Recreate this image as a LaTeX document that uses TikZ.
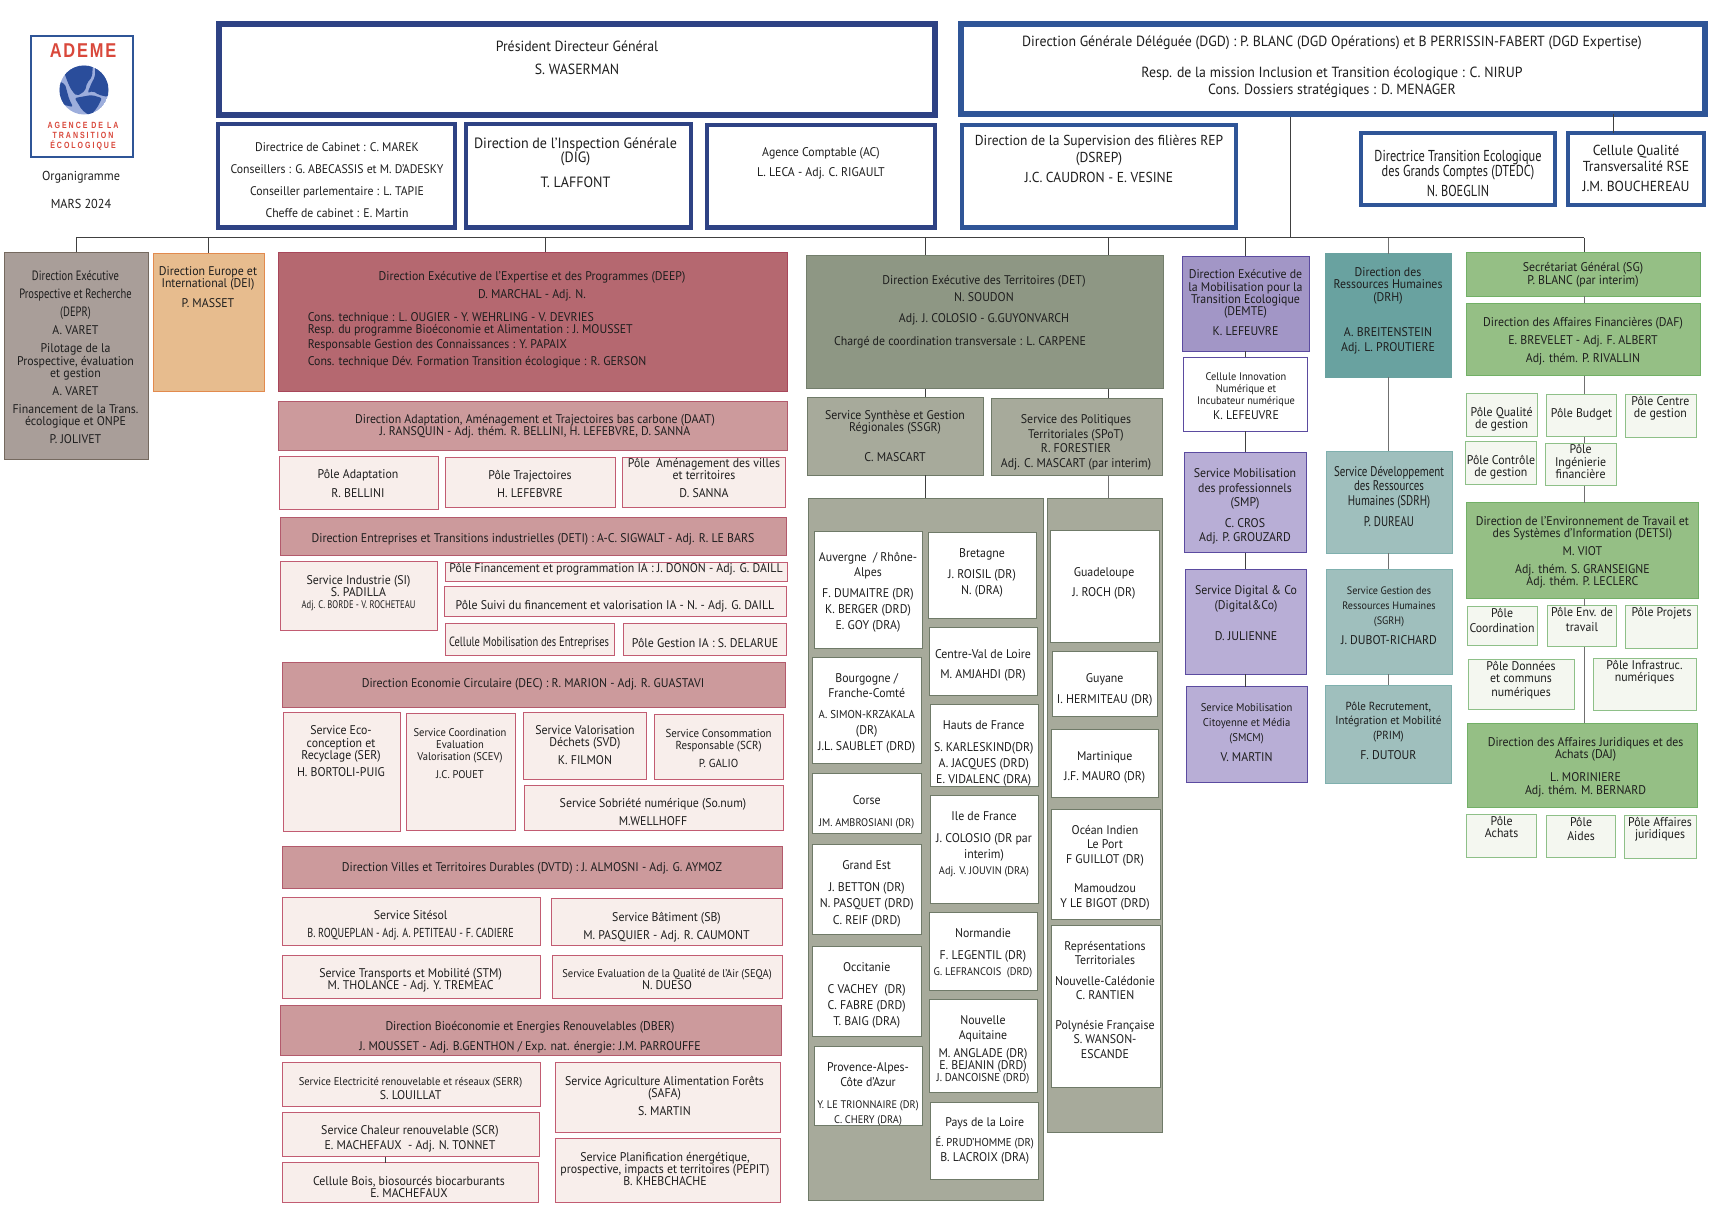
\documentclass[tikz,border=0pt]{standalone}
\usepackage{fontspec}
\setmainfont[FakeStretch=0.94]{PT Sans}
\newfontfamily\condf[FakeStretch=0.78]{PT Sans}
\newfontfamily\logofa[LetterSpace=9,FakeStretch=0.82]{Liberation Sans}
\newfontfamily\logofb[LetterSpace=22,FakeStretch=0.78]{Liberation Sans}
\definecolor{navyc}{HTML}{2E4284}
\definecolor{blueb}{HTML}{2F5597}
\definecolor{txtc}{HTML}{1E1E1E}
\definecolor{linec}{HTML}{404040}
\definecolor{lineg}{HTML}{707070}
\definecolor{deprf}{HTML}{A99E99}\definecolor{deprd}{HTML}{75695F}
\definecolor{deif}{HTML}{E7BC8E}\definecolor{deid}{HTML}{E28A4E}
\definecolor{rdf}{HTML}{B56870}\definecolor{rdd}{HTML}{A8465A}
\definecolor{rmf}{HTML}{CC9A9C}\definecolor{rmd}{HTML}{B35A6C}
\definecolor{rlf}{HTML}{F8EEEB}\definecolor{rld}{HTML}{C25C72}
\definecolor{gdf}{HTML}{8E9784}\definecolor{gdd}{HTML}{737E6C}
\definecolor{gmf}{HTML}{A7AA9B}\definecolor{gmd}{HTML}{6F7A68}
\definecolor{pdf}{HTML}{A296C6}\definecolor{pmf}{HTML}{B8AED6}\definecolor{pd}{HTML}{5B4BA0}
\definecolor{tdf}{HTML}{69A2A0}\definecolor{tmf}{HTML}{9FBFBD}\definecolor{tmd}{HTML}{7FB0AE}
\definecolor{vmf}{HTML}{95BF85}\definecolor{vmd}{HTML}{72B066}
\definecolor{vlf}{HTML}{F4F7F0}\definecolor{vld}{HTML}{8EC088}
\definecolor{logor}{HTML}{D9483B}\definecolor{globed}{HTML}{2A4D9B}\definecolor{globel}{HTML}{9DAEDC}
\newcommand{\noskip}{\lineskiplimit=-100pt\relax}
\tikzset{
 fz/.code args={#1/#2}{\gdef\bxfz{\fontsize{#1}{#2}\selectfont}},
 cond/.code={\gdef\bxfam{\condf}},
 boxbase/.style={rectangle,inner sep=0pt,outer sep=0pt,line width=1pt},
 txtnode/.style={anchor=north,align=center,inner sep=0pt,outer sep=0pt,yshift=5.2pt,text=txtc},
 conn/.style={draw=linec,line width=1pt},
 conng/.style={draw=lineg,line width=1pt},
 navybox/.style={draw=navyc,line width=6pt,fill=white},
 navysm/.style={draw=navyc,line width=4.5pt,fill=white},
 bluebig/.style={draw=blueb,line width=6pt,fill=white},
 bluesm/.style={draw=blueb,line width=4.5pt,fill=white},
 depr/.style={draw=deprd,fill=deprf},
 dei/.style={draw=deid,fill=deif},
 reddark/.style={draw=rdd,fill=rdf},
 redmid/.style={draw=rmd,fill=rmf},
 redlight/.style={draw=rld,fill=rlf},
 greydark/.style={draw=gdd,fill=gdf},
 greymid/.style={draw=gmd,fill=gmf},
 whitecell/.style={draw=gmd,fill=white},
 purdark/.style={draw=pd,fill=pdf},
 purmid/.style={draw=pd,fill=pmf},
 purwhite/.style={draw=pd,fill=white},
 tealdark/.style={draw=tdf,fill=tdf},
 tealmid/.style={draw=tmd,fill=tmf},
 greenmid/.style={draw=vmd,fill=vmf},
 greenlight/.style={draw=vld,fill=vlf},
}
% name, x1, y1, x2, y2, style, text centre x, first line centre y, text
\newcommand{\bx}[9]{%
 \gdef\bxfz{\fontsize{12.6}{12}\selectfont}\gdef\bxfam{}%
 \node[boxbase,#6,minimum width={(#4-#2)*1pt},minimum height={(#5-#3)*1pt}] (#1) at ({(#2+#4)/2},{(#3+#5)/2}) {};
 \node[txtnode,font=\bxfam\bxfz\noskip] (#1t) at (#7,#8) {\rule{0pt}{9.6pt}#9};
}
\newcommand{\vc}[4][conn]{\coordinate (tmpx) at (#2,0); \draw[#1] (tmpx |- #3.south) -- (tmpx |- #4.north);}
\newcommand{\busdrop}[3][conn]{\coordinate (tmpx) at (#2,237.5); \draw[#1] (tmpx) -- (tmpx |- #3.north);}
\newcommand{\csm}[1]{{\condf\fontsize{11}{12}\selectfont #1}}
\newcommand{\dsm}[1]{{\condf\fontsize{13.5}{12}\selectfont #1}}
\newcommand{\nsm}[1]{{\fontsize{11}{12}\selectfont #1}}
\newcommand{\nsn}[1]{{\fontsize{11.2}{12}\selectfont #1}}
\newcommand{\nsl}[1]{{\fontsize{11.4}{12}\selectfont #1}}
\begin{document}
\begin{tikzpicture}[x=1pt,y=-1pt]
\useasboundingbox (0,0) rectangle (1726,1216);
% logo
\node[boxbase,draw=blueb,line width=2.5pt,fill=white,minimum width=102pt,minimum height=121pt] (logo) at (82,96.5) {};
\node[inner sep=0pt,text=logor,font=\logofa\bfseries\fontsize{20}{20}\selectfont] (logoa) at (83,51) {ADEME};
\node[inner sep=0pt,text=logor,font=\logofb\bfseries\fontsize{9}{10}\selectfont,align=center] (logob) at (83,136) {AGENCE DE LA\\TRANSITION\\ÉCOLOGIQUE};
\begin{scope}
 \clip (84,90) circle (24.5);
 \fill[globel] (84,90) circle (24.5);
 \fill[globed,rounded corners=2pt] (64,72) -- (78,62) -- (93,64) -- (92,77) -- (87,83) -- (85,91) -- (77,96) -- (72,91) -- (68,83) -- cycle;
 \fill[globed,rounded corners=2pt] (95,62) -- (110,70) -- (112,85.3) -- (108,97) -- (98.3,94.7) -- (93.3,91) -- (87.5,93) -- (92,82) -- (95,77) -- cycle;
 \fill[globed,rounded corners=2pt] (74.7,98) -- (91.7,95) -- (102,98) -- (97,108) -- (90,116) -- (82,110) -- cycle;
 \fill[globed,rounded corners=2pt] (56,80) -- (65,84) -- (69,98.7) -- (73,107) -- (60,104) -- cycle;
\end{scope}
\node[inner sep=0pt,font=\fontsize{13}{13}\selectfont,text=txtc] (org) at (81,177) {Organigramme};
\node[inner sep=0pt,font=\fontsize{13}{13}\selectfont,text=txtc] (mars) at (81,204) {MARS 2024};
% top
\bx{pdg}{218.5}{24}{935}{114.5}{navybox,fz=14.7/13}{577}{46}{Président Directeur Général\\[10pt]S. WASERMAN}
\bx{dgd}{961}{24}{1705}{114}{bluebig,fz=14.7/13}{1332}{41}{Direction Générale Déléguée (DGD) : P. BLANC (DGD Opérations) et B PERRISSIN-FABERT (DGD Expertise)\\[18pt]Resp. de la mission Inclusion et Transition écologique : C. NIRUP\\[4pt]Cons. Dossiers stratégiques : D. MENAGER}
\bx{cab}{218}{124}{455}{227.5}{navysm,fz=12.5/12}{337}{147}{Directrice de Cabinet : C. MAREK\\[10pt]Conseillers : G. ABECASSIS et M. D’ADESKY\\[10pt]Conseiller parlementaire : L. TAPIE\\[10pt]Cheffe de cabinet : E. Martin}
\bx{dig}{466}{124}{691}{227.5}{navysm,fz=14.9/14}{575.5}{142.5}{Direction de l’Inspection Générale\\(DIG)\\[11pt]T. LAFFONT}
\bx{ac}{707}{125}{935}{227.5}{navysm,fz=12.6/12}{821}{152}{Agence Comptable (AC)\\[8pt]L. LECA - Adj. C. RIGAULT}
\bx{dsrep}{962}{125}{1236}{227.5}{bluesm,fz=14.4/17}{1099}{140}{Direction de la Supervision des filières REP\\(DSREP)\\[3pt]J.C. CAUDRON - E. VESINE}
\bx{dtedc}{1361}{133}{1555}{205}{bluesm,fz=15.8/15,cond}{1458}{156}{Directrice Transition Ecologique\\des Grands Comptes (DTEDC)\\[5pt]N. BOEGLIN}
\bx{rse}{1568}{133}{1704}{205}{bluesm,fz=14.5/16}{1636}{150}{Cellule Qualité\\Transversalité RSE\\[4pt]J.M. BOUCHEREAU}
% bus
\coordinate (busl) at (76,237.5);
\coordinate (busr) at (1584,237.5);
\draw[conn] (busl) -- (busr);
% left
\bx{deprb}{4}{252}{148}{459}{depr}{75.5}{276}{\dsm{Direction Exécutive}\\[6pt]\dsm{Prospective et Recherche}\\[6pt]\dsm{(DEPR)}\\[6pt]A. VARET\\[6pt]Pilotage de la\\[1pt]Prospective, évaluation\\et gestion\\[6pt]A. VARET\\[6pt]Financement de la Trans.\\écologique et ONPE\\[6pt]P. JOLIVET}
\bx{deib}{153.5}{253}{264}{391}{dei}{208}{271}{Direction Europe et\\International (DEI)\\[8pt]P. MASSET}
\bx{deep}{278}{252}{787}{391}{reddark}{532}{276}{Direction Exécutive de l’Expertise et des Programmes (DEEP)\\[6pt]D. MARCHAL - Adj. N.}
\node[anchor=north west,align=left,inner sep=0pt,text=txtc,font=\fontsize{12.6}{12}\selectfont\noskip] (deepl) at (307.6,312.5) {Cons. technique : L. OUGIER - Y. WEHRLING - V. DEVRIES\\Resp. du programme Bioéconomie et Alimentation : J. MOUSSET\\[3pt]Responsable Gestion des Connaissances : Y. PAPAIX\\[5pt]Cons. technique Dév. Formation Transition écologique : R. GERSON};
\bx{daat}{278}{401}{787}{450}{redmid}{535}{419}{Direction Adaptation, Aménagement et Trajectoires bas carbone (DAAT)\\J. RANSQUIN - Adj. thém.  R. BELLINI, H. LEFEBVRE, D. SANNA}
\bx{padapt}{279}{456}{438}{509}{redlight}{358}{474}{Pôle Adaptation\\[7pt]R. BELLINI}
\bx{ptraj}{445.5}{457}{615}{507}{redlight}{530}{475}{Pôle Trajectoires\\[6pt]H. LEFEBVRE}
\bx{pamen}{622.6}{457}{785}{507}{redlight}{704}{463}{Pôle~~Aménagement des villes\\et territoires\\[6pt]D. SANNA}
\bx{deti}{280}{517}{786}{555}{redmid}{533}{538}{Direction Entreprises et Transitions industrielles (DETI) : A-C. SIGWALT - Adj. R. LE BARS}
\bx{si}{280.5}{561.7}{437}{630}{redlight}{358.5}{580}{Service Industrie (SI)\\S. PADILLA\\\csm{Adj. C. BORDE - V. ROCHETEAU}}
\bx{pfin}{445.5}{562}{787}{581.7}{redlight}{616}{568}{Pôle Financement et programmation IA : J. DONON - Adj. G. DAILL}
\bx{psuivi}{444.5}{586.7}{786}{616}{redlight}{615}{604.7}{Pôle Suivi du financement et valorisation IA - N. - Adj. G. DAILL}
\bx{cmob}{445.5}{623}{614}{655.7}{redlight,cond,fz=13.4/12}{529}{641.7}{Cellule Mobilisation des Entreprises}
\bx{pgest}{623}{623}{786}{655.7}{redlight}{705}{642.7}{Pôle Gestion IA : S. DELARUE}
\bx{dec}{282}{662}{785}{707}{redmid}{533}{683}{Direction Economie Circulaire (DEC) : R. MARION - Adj. R. GUASTAVI}
\bx{ser}{283}{712}{400}{831}{redlight}{341}{730}{Service Eco-\\[1pt]conception et\\Recyclage (SER)\\[5pt]H. BORTOLI-PUIG}
\bx{scev}{406}{713}{515}{830}{redlight,fz=11.2/12}{460}{732}{Service Coordination\\Evaluation\\Valorisation (SCEV)\\[6pt]J.C. POUET}
\bx{svd}{523.5}{712}{646.6}{779}{redlight}{585}{730}{Service Valorisation\\Déchets (SVD)\\[6pt]K. FILMON}
\bx{scons}{654}{714}{783}{779}{redlight,fz=11.6/12}{718.6}{733}{Service Consommation\\Responsable (SCR)\\[6pt]P. GALIO}
\bx{sobr}{524}{785}{783}{830}{redlight}{653}{803}{Service Sobriété numérique (So.num)\\[6pt]M.WELLHOFF}
\bx{dvtd}{282.5}{846}{782}{888}{redmid}{532}{867}{Direction Villes et Territoires Durables (DVTD) : J. ALMOSNI - Adj. G. AYMOZ}
\bx{sit}{282}{897}{540}{945}{redlight}{410.6}{915}{Service Sitésol\\[6pt]{\condf\fontsize{13}{12}\selectfont B. ROQUEPLAN - Adj. A. PETITEAU -  F. CADIERE}}
\bx{sbat}{551.6}{898.7}{782}{945.7}{redlight}{666.5}{917}{Service Bâtiment (SB)\\[6pt]M. PASQUIER - Adj. R. CAUMONT}
\bx{stm}{282}{955}{540}{998}{redlight}{410.6}{973}{Service Transports et Mobilité (STM)\\M. THOLANCE - Adj. Y. TREMEAC}
\bx{seqa}{552.6}{955}{782}{998}{redlight}{667}{973}{\nsn{Service Evaluation de la Qualité de l’Air (SEQA)}\\N. DUESO}
\bx{dber}{280}{1005}{781.5}{1055}{redmid}{530}{1026}{Direction Bioéconomie et Energies Renouvelables  (DBER)\\[8pt]J. MOUSSET - Adj. B.GENTHON / Exp. nat. énergie: J.M. PARROUFFE}
\bx{serr}{282}{1062.7}{540}{1106.7}{redlight}{410.6}{1081}{\nsn{Service Electricité renouvelable et réseaux (SERR)}\\[2pt]S. LOUILLAT}
\bx{safa}{555}{1062.7}{780}{1132.7}{redlight}{664.5}{1081}{Service Agriculture Alimentation Forêts\\(SAFA)\\[6pt]S. MARTIN}
\bx{schal}{282}{1112}{539}{1156.7}{redlight}{410}{1130}{Service Chaleur renouvelable (SCR)\\[3pt]E. MACHEFAUX~~- Adj. N. TONNET}
\bx{cbois}{282}{1162.7}{538}{1202}{redlight}{409}{1181}{Cellule Bois, biosourcés biocarburants\\E. MACHEFAUX}
\bx{pepit}{555.6}{1138.7}{780.5}{1202}{redlight}{665}{1157}{Service Planification énergétique,\\prospective, impacts et territoires (PEPIT)\\B. KHEBCHACHE}
\vc{385}{schal}{cbois}
% territoires
\bx{det}{806}{255}{1163}{388.7}{greydark}{984}{280}{Direction Exécutive des Territoires (DET)\\[5pt]N. SOUDON\\[9pt]Adj. J. COLOSIO - G.GUYONVARCH}
\node[inner sep=0pt,text=txtc,font=\fontsize{12.6}{12}\selectfont] (detl) at (960,342) {Chargé de coordination transversale : L. CARPENE};
\bx{ssgr}{807}{397.3}{983.7}{475}{greymid}{895}{415}{Service Synthèse et Gestion\\Régionales (SSGR)\\[18pt]C. MASCART}
\bx{spot}{991}{398}{1162}{475}{greymid}{1076}{419}{Service des Politiques\\[3pt]Territoriales (SPoT)\\[2pt]R. FORESTIER\\[3pt]Adj. C. MASCART (par interim)}
\node[boxbase,greymid,minimum width=235pt,minimum height=702.6pt] (panl) at (925.5,849.3) {};
\node[boxbase,greymid,minimum width=115pt,minimum height=634.6pt] (panr) at (1104.5,815.3) {};
\vc{925}{det}{ssgr}
\vc{1108}{det}{spot}
\vc{925}{ssgr}{panl}
\vc[conng]{1108}{spot}{panr}
\bx{auv}{814}{531.6}{922}{648}{whitecell}{868}{557.5}{Auvergne~~/ Rhône-\\[3pt]Alpes\\[9pt]F. DUMAITRE (DR)\\[4pt]K. BERGER (DRD)\\[4pt]E. GOY (DRA)}
\bx{bre}{928.7}{532.6}{1036}{618.5}{whitecell}{982}{553}{Bretagne\\[9pt]J. ROISIL (DR)\\[4pt]N. (DRA)}
\bx{bou}{812.7}{657.5}{921}{763.6}{whitecell}{866.7}{677.6}{Bourgogne /\\[3pt]Franche-Comté\\[9pt]\nsl{A. SIMON-KRZAKALA}\\[4pt](DR)\\[4pt]J.L. SAUBLET (DRD)}
\bx{cvl}{929}{627.4}{1037}{695.5}{whitecell}{983}{653.7}{Centre-Val de Loire\\[8pt]M. AMJAHDI (DR)}
\bx{hdf}{930}{704}{1038}{786.6}{whitecell}{983.7}{724.6}{Hauts de France\\[10pt]S. KARLESKIND(DR)\\[4pt]A. JACQUES (DRD)\\[4pt]E. VIDALENC (DRA)}
\bx{cor}{812.7}{773.4}{921}{833}{whitecell}{866.7}{799.7}{Corse\\[10pt]\nsm{JM. AMBROSIANI (DR)}}
\bx{idf}{930.7}{795.5}{1038.7}{903.5}{whitecell}{984}{815.7}{Ile de France\\[10pt]J. COLOSIO (DR par\\[4pt]interim)\\[4pt]\nsm{Adj. V. JOUVIN (DRA)}}
\bx{gre}{812.7}{844.8}{921}{934.5}{whitecell}{866.7}{865}{Grand Est\\[10pt]J. BETTON (DR)\\[4pt]N. PASQUET (DRD)\\[5pt]C. REIF (DRD)}
\bx{nor}{929}{912.4}{1037}{990}{whitecell}{983}{932.6}{Normandie\\[10pt]F. LEGENTIL (DR)\\[4pt]\nsm{G. LEFRANCOIS~~(DRD)}}
\bx{occ}{812.7}{946.7}{921}{1036}{whitecell}{866.7}{966.9}{Occitanie\\[10pt]C VACHEY~~(DR)\\[4pt]C. FABRE (DRD)\\[4pt]T. BAIG (DRA)}
\bx{naq}{929}{999.7}{1037}{1092}{whitecell}{983}{1020}{Nouvelle\\[3pt]Aquitaine\\[6pt]M. ANGLADE (DR)\\E. BEJANIN (DRD)\\\nsl{J. DANCOISNE (DRD)}}
\bx{pac}{814}{1046.7}{922}{1125.5}{whitecell}{868}{1066.9}{Provence-Alpes-\\[3pt]Côte d’Azur\\[10pt]\nsm{Y. LE TRIONNAIRE (DR)}\\[3pt]\nsm{C. CHERY (DRA)}}
\bx{pdl}{930.7}{1102}{1038.7}{1179}{whitecell}{984.7}{1121.8}{Pays de la Loire\\[8pt]\nsl{É. PRUD’HOMME (DR)}\\[3pt]B. LACROIX (DRA)}
\bx{gua}{1050.7}{530.7}{1159}{642.4}{whitecell}{1104}{572}{Guadeloupe\\[8pt]J. ROCH (DR)}
\bx{guy}{1052.7}{651.8}{1157.7}{716.6}{whitecell}{1104.7}{677.6}{Guyane\\[9pt]I. HERMITEAU (DR)}
\bx{mar}{1051}{729.3}{1158.7}{797.4}{whitecell}{1104.7}{756}{Martinique\\[8pt]J.F. MAURO (DR)}
\bx{oce}{1051}{809.6}{1160}{919}{whitecell}{1105}{829.8}{Océan Indien\\[2pt]Le Port\\[3pt]F GUILLOT (DR)\\[17pt]Mamoudzou\\[3pt]Y LE BIGOT (DRD)}
\bx{rep}{1051}{925}{1160}{1087}{whitecell}{1105}{945.7}{Représentations\\[2pt]Territoriales\\[9pt]Nouvelle-Calédonie\\[2pt]C. RANTIEN\\[18pt]Polynésie Française\\[2pt]S. WANSON-\\[3pt]ESCANDE}
% DEMTE
\bx{demte}{1182.4}{256}{1309}{351.3}{purdark}{1245.5}{274}{Direction Exécutive de\\[1pt]la Mobilisation pour la\\Transition Ecologique\\(DEMTE)\\[8pt]K. LEFEUVRE}
\bx{cinn}{1183}{357.3}{1307.6}{431}{purwhite,fz=11/12}{1246}{376}{Cellule Innovation\\Numérique et\\Incubateur numérique\\[3pt]{\fontsize{12.6}{12}\selectfont K. LEFEUVRE}}
\bx{smp}{1184.5}{452.3}{1306}{552.7}{purmid}{1245}{473}{Service Mobilisation\\[3pt]des professionnels\\[2pt](SMP)\\[9pt]C. CROS\\[2pt]Adj. P. GROUZARD}
\bx{sdig}{1185}{569.3}{1306.5}{674}{purmid}{1246}{590}{Service Digital \& Co\\[3pt](Digital\&Co)\\[19pt]D. JULIENNE}
\bx{smcm}{1186}{686.7}{1307.6}{782}{purmid,fz=11.3/12}{1246.6}{707}{Service Mobilisation\\[3pt]Citoyenne et Média\\[3pt](SMCM)\\[8pt]{\fontsize{12.6}{12}\selectfont V. MARTIN}}
\vc{1245}{demte}{cinn}
\vc{1245}{cinn}{smp}
\vc{1245}{smp}{sdig}
\vc{1245}{sdig}{smcm}
% DRH
\bx{drh}{1325}{253.7}{1451}{377}{tealdark}{1388}{272}{Direction des\\Ressources Humaines\\[1pt](DRH)\\[23pt]A. BREITENSTEIN\\[3pt]Adj. L. PROUTIERE}
\bx{sdrh}{1326.7}{451}{1452.6}{553}{tealmid,cond,fz=14/12}{1389}{472}{Service Développement\\[2pt]des Ressources\\[3pt]Humaines (SDRH)\\[9pt]P. DUREAU}
\bx{sgrh}{1326.7}{569.3}{1452.6}{674}{tealmid,fz=10.8/12}{1389}{590}{Service Gestion des\\[3pt]Ressources Humaines\\[3pt](SGRH)\\[8pt]{\fontsize{12.6}{12}\selectfont J. DUBOT-RICHARD}}
\bx{prim}{1325.7}{685}{1451.6}{783.7}{tealmid,fz=11.7/12}{1388.4}{706}{Pôle Recrutement,\\[2pt]Intégration et Mobilité\\[3pt](PRIM)\\[8pt]{\fontsize{12.6}{12}\selectfont F. DUTOUR}}
\vc[conng]{1388}{drh}{sdrh}
\vc[conng]{1388}{sdrh}{sgrh}
\vc[conng]{1388}{sgrh}{prim}
% SG
\bx{sg}{1466.5}{252.3}{1700.5}{296.3}{greenmid}{1583}{267}{Secrétariat Général (SG)\\[1pt]P. BLANC (par interim)}
\bx{daf}{1466.5}{303.3}{1700}{375.7}{greenmid}{1583}{322}{Direction des Affaires Financières (DAF)\\[6pt]E. BREVELET - Adj. F. ALBERT\\[6pt]Adj. thém. P. RIVALLIN}
\bx{pqual}{1466.5}{393.3}{1537.4}{436.7}{greenlight}{1501.6}{412}{Pôle Qualité\\de gestion}
\bx{pbud}{1546.6}{394.3}{1616}{436.7}{greenlight}{1581.5}{413}{Pôle Budget}
\bx{pcent}{1625}{394.3}{1696.6}{437.3}{greenlight}{1660.4}{401}{Pôle Centre\\de gestion}
\bx{pctrl}{1465.7}{441.3}{1536}{484.3}{greenlight}{1500.9}{460}{Pôle Contrôle\\de gestion}
\bx{ping}{1545.5}{443.3}{1616}{485.7}{greenlight}{1580.6}{449}{Pôle\\[1pt]Ingénierie\\financière}
\bx{detsi}{1466.5}{502.7}{1698.4}{598.7}{greenmid}{1582.4}{521}{Direction de l’Environnement de Travail et\\des Systèmes d’Information (DETSI)\\[6pt]M. VIOT\\[6pt]Adj. thém. S. GRANSEIGNE\\Adj. thém. P. LECLERC}
\bx{pcoo}{1467}{606.7}{1537.4}{645.7}{greenlight}{1502}{613}{Pôle\\[3pt]Coordination}
\bx{penv}{1547.7}{605.7}{1616.8}{646.7}{greenlight}{1582}{612}{Pôle Env. de\\[3pt]travail}
\bx{ppro}{1625.7}{605.7}{1697}{648.3}{greenlight}{1661.5}{612}{Pôle Projets}
\bx{pdon}{1468.6}{659.7}{1574}{709}{greenlight}{1521}{666}{Pôle Données\\et communs\\[2pt]numériques}
\bx{pinf}{1593}{658.7}{1696}{710}{greenlight}{1644.5}{665}{Pôle Infrastruc.\\numériques}
\bx{daj}{1467.5}{723.3}{1697.7}{807.7}{greenmid}{1585.6}{742}{Direction des Affaires Juridiques et des\\Achats (DAJ)\\[11pt]L. MORINIERE\\[1pt]Adj. thém. M. BERNARD}
\bx{pach}{1466.5}{814.3}{1536.7}{857.3}{greenlight}{1501.6}{821}{Pôle\\Achats}
\bx{paid}{1546.6}{815.7}{1615.4}{857.3}{greenlight}{1581}{822}{Pôle\\[2pt]Aides}
\bx{pjur}{1624.6}{815.7}{1696}{858.3}{greenlight}{1660}{822}{Pôle Affaires\\juridiques}
\vc[conng]{1584}{sg}{daf}
\vc[conng]{1584}{daf}{pbud}
\vc[conng]{1584}{pbud}{ping}
\vc[conng]{1584}{ping}{detsi}
\vc[conng]{1584}{detsi}{penv}
\vc[conng]{1584}{penv}{daj}
% bus drops
\busdrop{76}{deprb}
\busdrop{208}{deib}
\busdrop{545}{deep}
\busdrop{925}{det}
\busdrop{1108}{det}
\busdrop{1245}{demte}
\busdrop[conng]{1388}{drh}
\busdrop{1584}{sg}
\coordinate (tmpx) at (1290,237.5);
\draw[conn,shorten <=3pt] (tmpx |- dgd.south) -- (tmpx);
\vc[conn]{1613}{dgd}{rse}
\end{tikzpicture}
\end{document}
